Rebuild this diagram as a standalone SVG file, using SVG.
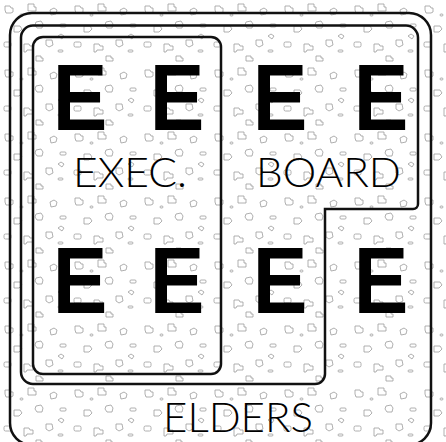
<svg xmlns="http://www.w3.org/2000/svg" width="446" height="442" viewBox="0 0 446 442">
  <style>
    .frame { fill: none; stroke: #111; stroke-width: 2.5; }
    .big { font-family: "Liberation Sans", Arial, sans-serif; font-weight: bold; font-size: 94px; fill: #000; text-anchor: middle; }
    .lbl { font-family: Lato, "Liberation Sans", sans-serif; font-weight: 300; font-size: 42px; fill: #000; }
    .blob { fill: none; stroke: #9a9a9a; stroke-width: 0.8; }
  </style>
  <defs>
    <pattern id="grit" width="70" height="64" patternUnits="userSpaceOnUse">
      <path class="blob" d="M5,6 h5 l1,2 h2 v4 l-2,1 h-5 l-1,-3 z"/>
      <path class="blob" d="M28,4 h6 v3 h2 v4 h-8 z"/>
      <path class="blob" d="M50,10 l4,-2 l3,2 l-1,4 l-5,1 z"/>
      <rect class="blob" x="60" y="24" width="6" height="3" rx="1"/>
      <path class="blob" d="M14,26 h6 l2,3 l-3,3 h-5 z"/>
      <path class="blob" d="M36,22 l5,-1 l2,3 l-1,4 l-5,0 l-2,-3 z"/>
      <rect class="blob" x="4" y="42" width="7" height="5" rx="1.5"/>
      <path class="blob" d="M24,44 h5 l1,2 h3 v4 h-6 l-1,2 h-2 z"/>
      <path class="blob" d="M46,40 l6,0 l1,5 l-4,2 l-3,-2 z"/>
      <rect class="blob" x="58" y="50" width="5" height="2" rx="1"/>
      <path class="blob" d="M36,56 h5 v2 h2 v3 h-7 z"/>
      <rect class="blob" x="20" y="14" width="3" height="2" rx="1"/>
      <path class="blob" d="M58,36 l3,-2 l3,2 l-2,3 z"/>
    </pattern>
  </defs>
  <rect width="446" height="442" fill="#fff"/>
  <rect width="446" height="442" fill="url(#grit)"/>
  <g id="connectors"/>
  <g id="elders">
    <rect class="frame" x="10" y="13" width="421" height="432" rx="22"/>
    <text class="lbl" x="163" y="432" textLength="150" lengthAdjust="spacingAndGlyphs">ELDERS</text>
  </g>
  <g id="board">
    <path class="frame" d="M33,25.5 H406 A12,12 0 0 1 418,37.5 V204 A5,5 0 0 1 413,209 H325 V374 A10,10 0 0 1 315,384 H33 A12,12 0 0 1 21,372 V37.5 A12,12 0 0 1 33,25.5 Z"/>
    <text class="lbl" x="256" y="187" textLength="145" lengthAdjust="spacingAndGlyphs">BOARD</text>
    <text class="big" transform="translate(280,130) scale(0.87,1)">E</text>
    <text class="big" transform="translate(381,130) scale(0.87,1)">E</text>
    <text class="big" transform="translate(280,313) scale(0.87,1)">E</text>
    <text class="big" transform="translate(381,313) scale(0.87,1)">E</text>
  </g>
  <g id="exec">
    <rect class="frame" x="33" y="37" width="188" height="337" rx="10"/>
    <text class="lbl" x="73" y="187" textLength="114" lengthAdjust="spacingAndGlyphs">EXEC.</text>
    <text class="big" transform="translate(80,130) scale(0.87,1)">E</text>
    <text class="big" transform="translate(177,130) scale(0.87,1)">E</text>
    <text class="big" transform="translate(80,313) scale(0.87,1)">E</text>
    <text class="big" transform="translate(177,313) scale(0.87,1)">E</text>
  </g>
</svg>
